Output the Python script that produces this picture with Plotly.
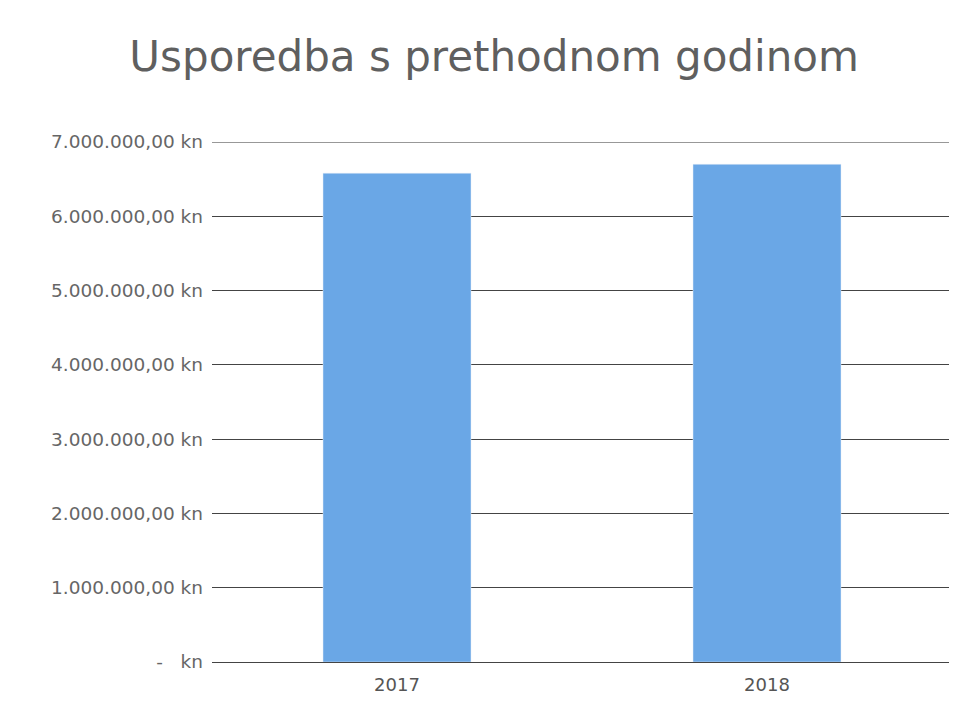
import plotly.graph_objects as go

years = ["2017", "2018"]
values = [6580000, 6700000]
tick_values = [0, 1000000, 2000000, 3000000, 4000000, 5000000, 6000000, 7000000]
tick_labels = ["-   kn", "1.000.000,00 kn", "2.000.000,00 kn", "3.000.000,00 kn",
               "4.000.000,00 kn", "5.000.000,00 kn", "6.000.000,00 kn", "7.000.000,00 kn"]

fig = go.Figure(go.Bar(x=years, y=values, marker_color="#6AA7E6", width=0.4))

fig.update_layout(
    width=957, height=706,
    paper_bgcolor="white", plot_bgcolor="white",
    margin=dict(l=204, r=13, t=134, b=52),
    title=dict(text="Usporedba s prethodnom godinom", x=0.508, xanchor="center",
               y=0.932, yanchor="middle",
               font=dict(family="DejaVu Sans", size=42, color="#5f5f5f")),
    showlegend=False,
)
fig.update_yaxes(range=[0, 7000000], tickvals=tick_values, ticktext=tick_labels,
                 showgrid=True, gridcolor="#444444", gridwidth=1,
                 zeroline=True, zerolinecolor="#444444", zerolinewidth=1,
                 tickfont=dict(family="DejaVu Sans", size=18.5, color="#666666"),
                 ticks="", ticklabelstandoff=8)
fig.add_shape(type="line", xref="paper", yref="y", x0=0, x1=1,
              y0=tick_values[-1], y1=tick_values[-1],
              line=dict(color="#333333", width=1))
fig.update_xaxes(showgrid=False, showline=False, ticks="", ticklabelstandoff=10,
                 tickfont=dict(family="DejaVu Sans", size=18, color="#555555"))

fig.write_html("out.html")
